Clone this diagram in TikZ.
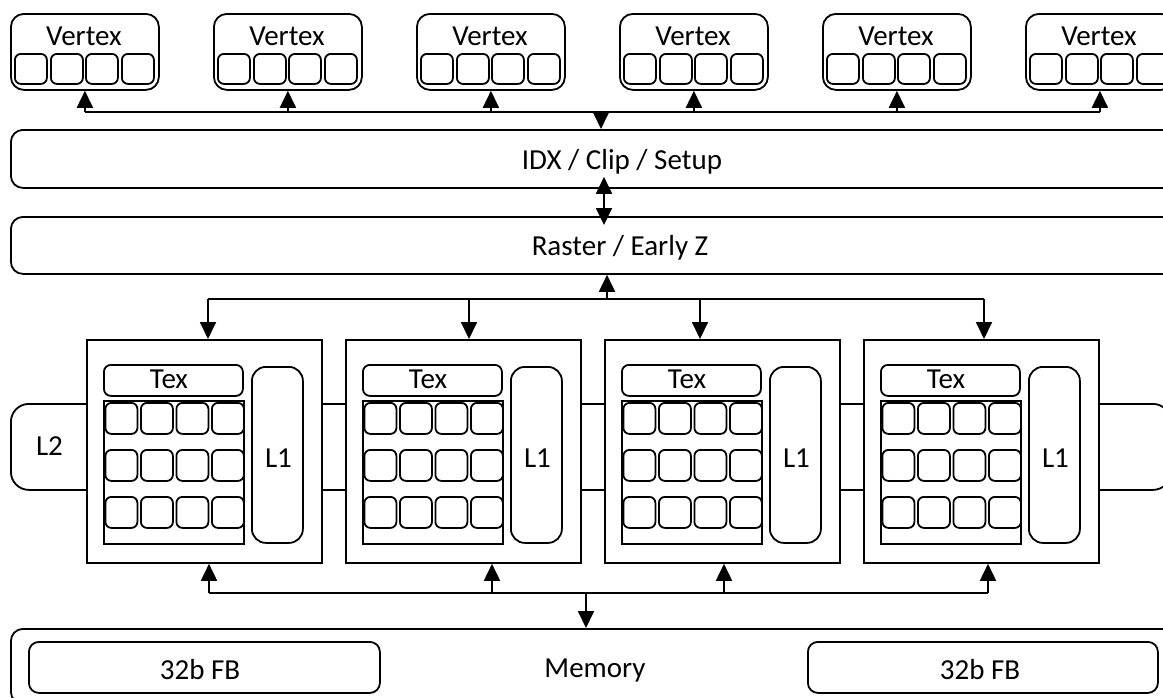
\documentclass[tikz,border=0pt]{standalone}
\usepackage{fontspec}
\setmainfont{Carlito}
\usetikzlibrary{arrows.meta,calc}
\begin{document}
\begin{tikzpicture}[x=1pt,y=-1pt,line width=1.8pt,
  box/.style={draw,rounded corners=#1,inner sep=0pt,fill=white,anchor=north west},
  sharpbox/.style={draw,inner sep=0pt,fill=white,anchor=north west},
  vcell/.style={box=6pt,minimum width=32pt,minimum height=30pt},
  ccell/.style={box=6pt,minimum width=32pt,minimum height=31pt},
  txt/.style={font=\fontsize{29}{33}\selectfont,inner sep=0pt,anchor=base},
  arr/.style={-{Triangle[length=17pt,width=16pt]}},
  arrtwo/.style={{Triangle[length=17pt,width=16pt]}-{Triangle[length=17pt,width=16pt]}}]
\useasboundingbox (0,0) rectangle (1163,697);
\clip (0,0) rectangle (1163,697);

% vertex units
\foreach \i in {0,...,5} {
  \node[box=13pt,minimum width=148pt,minimum height=76pt] (v\i) at ({10+203*\i},13) {};
  \node[txt] (vt\i) at ({84+203*\i},45) {Vertex};
  \foreach \j/\dx in {0/4,1/40,2/75,3/111}
    \node[vcell] (vc\i\j) at ({10+203*\i+\dx},53) {};
}

% pipeline blocks
\node[box=12pt,minimum width=1221pt,minimum height=58pt] (idx) at (10,129) {};
\node[txt] (idxt) at (622,169) {IDX / Clip / Setup};
\node[box=12pt,minimum width=1221pt,minimum height=57pt] (raster) at (10,216) {};
\node[txt] (rastert) at (620,255) {Raster / Early Z};

% L2
\node[box=18pt,minimum width=1160pt,minimum height=86pt] (l2) at (10,403) {};
\node[txt] (l2t) at (49.5,455) {L2};

% shader cores
\foreach \k/\x in {1/86,2/345,3/604,4/863} {
  \node[sharpbox,minimum width=235pt,minimum height=223pt] (c\k) at (\x,339) {};
  \node[box=7pt,minimum width=139pt,minimum height=31pt] (tex\k) at ({\x+17},364) {};
  \node[txt] (text\k) at ({\x+83},388) {Tex};
  \node[box=14pt,minimum width=51pt,minimum height=176pt] (lone\k) at ({\x+165},366) {};
  \node[txt] (lonet\k) at ({\x+192.5},467) {L1};
  \node[sharpbox,minimum width=140pt,minimum height=143pt] (g\k) at ({\x+17},400) {};
  \foreach \r/\yy in {1/402,2/449,3/496}
    \foreach \c/\dx in {1/18.5,2/54,3/89.5,4/125}
      \node[ccell] (cc\k\r\c) at ({\x+\dx},\yy) {};
}

% memory
\node[box=12pt,minimum width=1170pt,minimum height=75pt] (mem) at (10,628) {};
\node[txt] (memt) at (595,677) {Memory};
\node[box=10pt,minimum width=351pt,minimum height=51pt] (fbl) at (28,641) {};
\node[txt] (fblt) at (200,679) {32b FB};
\node[box=10pt,minimum width=350pt,minimum height=51pt] (fbr) at (807,641) {};
\node[txt] (fbrt) at (980,679) {32b FB};

% bus coordinates
\coordinate (busV) at (0,112);
\coordinate (busC) at (0,299);
\coordinate (busM) at (0,593);
\coordinate (pidx) at (601,112);
\coordinate (pras) at (604,0);
\coordinate (pup) at (607,299);
\coordinate (pmem) at (586,593);

% vertex bus
\draw (v0.south |- busV) -- (v5.south |- busV);
\foreach \i in {0,...,5} \draw[arr] (v\i.south |- busV) -- (v\i.south);
\draw[arr] (pidx) -- (pidx |- idx.north);
\draw[arrtwo,shorten <=-12pt,shorten >=-9pt] (pras |- idx.south) -- (pras |- raster.north);

% core bus (top)
\coordinate (t1) at ([xshift=122pt]c1.north west);
\coordinate (t2) at ([xshift=124pt]c2.north west);
\coordinate (t3) at ([xshift=96pt]c3.north west);
\coordinate (t4) at ([xshift=121pt]c4.north west);
\draw (t1 |- busC) -- (t4 |- busC);
\foreach \k in {1,...,4} \draw[arr] (t\k |- busC) -- (t\k);
\draw[arr] (pup) -- (pup |- raster.south);

% core bus (bottom)
\coordinate (b1) at ([xshift=123pt]c1.south west);
\coordinate (b2) at ([xshift=147pt]c2.south west);
\coordinate (b3) at ([xshift=120pt]c3.south west);
\coordinate (b4) at ([xshift=125pt]c4.south west);
\draw (b1 |- busM) -- (b4 |- busM);
\foreach \k in {1,...,4} \draw[arr] (b\k |- busM) -- (b\k);
\draw[arr] (pmem) -- (pmem |- mem.north);
\end{tikzpicture}
\end{document}
